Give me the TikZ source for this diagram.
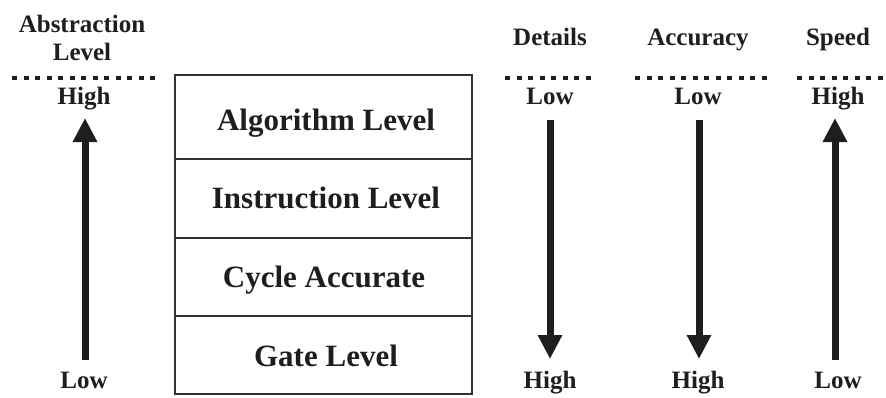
\documentclass[tikz,border=0pt]{standalone}
\usepackage{fontspec}
\setmainfont{Liberation Serif}
\usetikzlibrary{arrows.meta}
\definecolor{ink}{HTML}{1E1E1E}
\tikzset{
  lbl/.style={font=\fontsize{25}{28}\selectfont\bfseries, text=ink, anchor=base, inner sep=0pt},
  boxtxt/.style={font=\fontsize{31}{34}\selectfont\bfseries, text=ink, anchor=base, inner sep=0pt},
  dotline/.style={line width=4.5pt, ink, dash pattern=on 5pt off 6.5pt},
  bigarrow/.style={line width=7pt, ink, -{Triangle[width=23pt,length=24pt]}},
  frame/.style={line width=1.6pt, draw=black!80}
}
\begin{document}
\begin{tikzpicture}[x=1pt,y=-1pt]
\useasboundingbox (0,0) rectangle (886,397);
% headings
\node[lbl] (abs1) at (82,32) {Abstraction};
\node[lbl] (abs2) at (82,60) {Level};
\node[lbl] (det) at (550,45) {Details};
\node[lbl] (acc) at (698,45) {Accuracy};
\node[lbl] (spd) at (838,45) {Speed};
% dotted lines
\coordinate (d1a) at (12,78); \coordinate (d1b) at (158,78);
\coordinate (d2a) at (505,78); \coordinate (d2b) at (592,78);
\coordinate (d3a) at (635,78); \coordinate (d3b) at (768,78);
\coordinate (d4a) at (797,78); \coordinate (d4b) at (886,78);
\draw[dotline] (d1a) -- (d1b);
\draw[dotline] (d2a) -- (d2b);
\draw[dotline] (d3a) -- (d3b);
\draw[dotline] (d4a) -- (d4b);
% top labels
\node[lbl] (t1) at (84,104) {High};
\node[lbl] (t2) at (550,104) {Low};
\node[lbl] (t3) at (698,104) {Low};
\node[lbl] (t4) at (838,104) {High};
% bottom labels
\node[lbl] (b1) at (84,388) {Low};
\node[lbl] (b2) at (550,388) {High};
\node[lbl] (b3) at (698,388) {High};
\node[lbl] (b4) at (838,388) {Low};
% arrows
\coordinate (a1s) at (85,360); \coordinate (a1e) at (85,118);
\coordinate (a2s) at (550,120); \coordinate (a2e) at (550,359);
\coordinate (a3s) at (699,120); \coordinate (a3e) at (699,359);
\coordinate (a4s) at (835,360); \coordinate (a4e) at (835,118);
\draw[bigarrow] (a1s) -- (a1e);
\draw[bigarrow] (a2s) -- (a2e);
\draw[bigarrow] (a3s) -- (a3e);
\draw[bigarrow] (a4s) -- (a4e);
% stack box
\coordinate (bx1) at (175,75); \coordinate (bx2) at (472,394);
\draw[frame] (bx1) rectangle (bx2);
\coordinate (r1a) at (175,159); \coordinate (r1b) at (472,159);
\coordinate (r2a) at (175,238); \coordinate (r2b) at (472,238);
\coordinate (r3a) at (175,316); \coordinate (r3b) at (472,316);
\draw[frame] (r1a) -- (r1b);
\draw[frame] (r2a) -- (r2b);
\draw[frame] (r3a) -- (r3b);
\node[boxtxt] (alg) at (326,130) {Algorithm Level};
\node[boxtxt] (ins) at (326,208) {Instruction Level};
\node[boxtxt] (cyc) at (324,287) {Cycle Accurate};
\node[boxtxt] (gat) at (326,366) {Gate Level};
\end{tikzpicture}
\end{document}
